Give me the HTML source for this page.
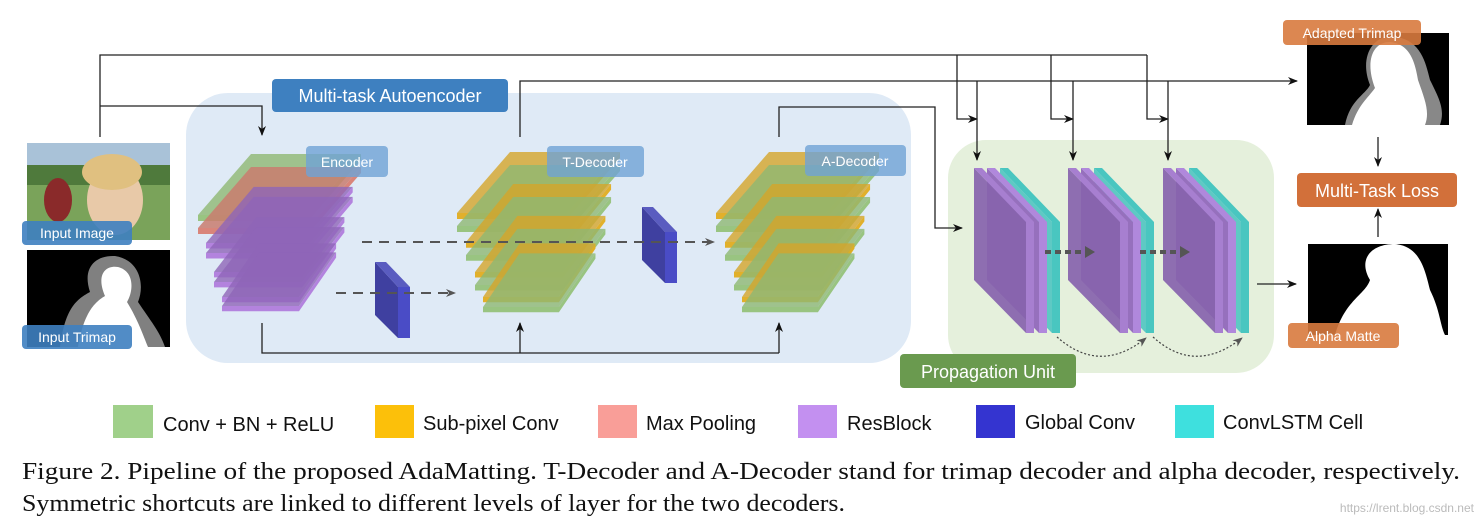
<!DOCTYPE html>
<html><head><meta charset="utf-8"><style>
body{margin:0;background:#fff;}
svg{display:block}
.lb{font-family:"Liberation Sans",sans-serif;fill:#fff}
.lg{font-family:"Liberation Sans",sans-serif;font-size:20px;fill:#111}
.cap{font-family:"Liberation Serif",serif;font-size:24px;fill:#111}
</style></head><body>
<svg width="1482" height="526" viewBox="0 0 1482 526" xmlns="http://www.w3.org/2000/svg">
<defs>
<marker id="ar" markerWidth="10" markerHeight="8" refX="9" refY="4" orient="auto" markerUnits="userSpaceOnUse"><path d="M0,0 L10,4 L0,8 L3,4 z" fill="#111"/></marker>
<marker id="ag" markerWidth="10" markerHeight="8" refX="9" refY="4" orient="auto" markerUnits="userSpaceOnUse"><path d="M0,0 L10,4 L0,8 L3,4 z" fill="#555"/></marker>
<g id="gL"><polygon points="0,0 53,-61 163,-61 110,0" fill="#8fb873" fill-opacity="0.8"/><polygon points="0,0 110,0 163,-61 163,-55 110,6 0,6" fill="#95c27a" fill-opacity="0.95"/></g>
<g id="oL"><polygon points="0,0 53,-61 163,-61 110,0" fill="#d4a52a" fill-opacity="0.8"/><polygon points="0,0 110,0 163,-61 163,-55 110,6 0,6" fill="#e0ad20" fill-opacity="0.95"/></g>
<g id="rL"><polygon points="0,0 53,-61 163,-61 110,0" fill="#c97c6e" fill-opacity="0.85"/><polygon points="0,0 110,0 163,-61 163,-55 110,6 0,6" fill="#d9857a"/></g>
<g id="pL"><polygon points="0,0 53,-61 163,-61 110,0" fill="#8f65b8" fill-opacity="0.8"/><polygon points="0,0 110,0 163,-61 163,-55 110,6 0,6" fill="#b07ddc" fill-opacity="0.95"/></g>
<g id="gc"><polygon points="0,0 23,25 23,76 0,53" fill="#3f40a0"/><polygon points="0,0 11,0 35,25 23,25" fill="#5a5cc0"/><rect x="23" y="25" width="12" height="51" fill="#4a4cc6"/></g>
<g id="plP"><polygon points="0,0 52,54 52,165 0,112" fill="#8763ad" fill-opacity="0.92"/><polygon points="0,0 8,0 60,54 60,165 52,165 52,54" fill="#a77fd0"/></g>
<g id="plP2"><polygon points="0,0 52,54 52,165 0,112" fill="#9670bd"/><polygon points="0,0 8,0 60,54 60,165 52,165 52,54" fill="#b088dc"/></g>
<g id="plT"><polygon points="0,0 52,54 52,165 0,112" fill="#5ec9c4"/><polygon points="0,0 8,0 60,54 60,165 52,165 52,54" fill="#49c6c0"/></g>
<g id="prop"><use href="#plT" x="26"/><use href="#plP2" x="13"/><use href="#plP" x="0"/></g>
</defs>

<rect x="186" y="93" width="725" height="270" rx="42" fill="#dfeaf6"/>
<rect x="948" y="140" width="326" height="233" rx="38" fill="#e5f0dc"/>

<rect x="27" y="143" width="143" height="97" fill="#7aa35a"/>
<rect x="27" y="143" width="143" height="30" fill="#a9c2d8"/>
<rect x="27" y="165" width="143" height="20" fill="#4f7a3c"/>
<ellipse cx="115" cy="200" rx="28" ry="35" fill="#e8c9a8"/>
<ellipse cx="112" cy="172" rx="30" ry="18" fill="#e0c080"/>
<ellipse cx="58" cy="200" rx="14" ry="22" fill="#8a2a2a"/>
<rect x="27" y="250" width="143" height="97" fill="#000"/>
<path d="M60,347 C65,310 75,300 90,292 C82,268 95,255 115,256 C140,260 145,285 138,302 C150,320 160,332 165,347 Z" fill="#808080"/>
<path d="M78,347 C84,312 95,302 105,296 C96,275 105,265 118,267 C134,271 134,290 127,302 C138,320 143,335 148,347 Z" fill="#fff"/>
<rect x="1307" y="33" width="142" height="92" fill="#000"/>
<path d="M1345,125 C1350,100 1365,95 1370,85 C1360,60 1370,38 1390,36 C1420,38 1425,60 1430,80 C1440,100 1445,110 1440,125 Z" fill="#888"/>
<path d="M1352,125 C1358,105 1368,98 1375,88 C1365,62 1372,42 1390,42 C1410,44 1415,62 1418,80 C1425,100 1430,112 1425,125 Z" fill="#fff"/>
<rect x="1308" y="244" width="140" height="91" fill="#000"/>
<path d="M1335,335 C1345,300 1365,295 1370,280 C1358,260 1370,244 1395,244 C1420,246 1425,270 1430,290 C1440,310 1440,325 1445,335 Z" fill="#fff"/>

<g stroke="#222" stroke-width="1.3" fill="none">
<polyline points="100,137 100,55 1147,55"/>
<polyline points="100,106 262,106 262,135" marker-end="url(#ar)"/>
<polyline points="957,55 957,119 977,119" marker-end="url(#ar)"/>
<polyline points="1051,55 1051,119 1073,119" marker-end="url(#ar)"/>
<polyline points="1147,55 1147,119 1168,119" marker-end="url(#ar)"/>
<polyline points="520,137 520,81 1297,81" marker-end="url(#ar)"/>
<line x1="977" y1="81" x2="977" y2="160" marker-end="url(#ar)"/>
<line x1="1073" y1="81" x2="1073" y2="160" marker-end="url(#ar)"/>
<line x1="1168" y1="81" x2="1168" y2="160" marker-end="url(#ar)"/>
<polyline points="779,137 779,107 935,107 935,228 962,228" marker-end="url(#ar)"/>
<polyline points="262,323 262,353 779,353"/>
<line x1="520" y1="353" x2="520" y2="323" marker-end="url(#ar)"/>
<line x1="779" y1="353" x2="779" y2="323" marker-end="url(#ar)"/>
<line x1="1257" y1="284" x2="1296" y2="284" marker-end="url(#ar)"/>
<line x1="1378" y1="137" x2="1378" y2="166" marker-end="url(#ar)"/>
<line x1="1378" y1="237" x2="1378" y2="209" marker-end="url(#ar)"/>
</g>

<!-- encoder -->
<use href="#gL" transform="translate(198,215)"/>
<use href="#rL" transform="translate(198,228)"/>
<use href="#pL" transform="translate(206,243) scale(0.9,0.92)"/>
<use href="#pL" transform="translate(206,253) scale(0.9,0.92)"/>
<use href="#pL" transform="translate(214,272) scale(0.8,0.9)"/>
<use href="#pL" transform="translate(214,282) scale(0.8,0.9)"/>
<use href="#pL" transform="translate(222,297) scale(0.7,0.88)"/>
<use href="#pL" transform="translate(222,306) scale(0.7,0.88)"/>
<!-- T-decoder -->
<use href="#oL" transform="translate(457,213)"/><use href="#gL" transform="translate(457,226)"/>
<use href="#oL" transform="translate(466,242) scale(0.89,0.95)"/><use href="#gL" transform="translate(466,255) scale(0.89,0.95)"/>
<use href="#oL" transform="translate(475,272) scale(0.8,0.92)"/><use href="#gL" transform="translate(475,285) scale(0.8,0.92)"/>
<use href="#oL" transform="translate(483,297) scale(0.69,0.88)"/><use href="#gL" transform="translate(483,307) scale(0.69,0.88)"/>
<!-- A-decoder -->
<use href="#oL" transform="translate(716,213)"/><use href="#gL" transform="translate(716,226)"/>
<use href="#oL" transform="translate(725,242) scale(0.89,0.95)"/><use href="#gL" transform="translate(725,255) scale(0.89,0.95)"/>
<use href="#oL" transform="translate(734,272) scale(0.8,0.92)"/><use href="#gL" transform="translate(734,285) scale(0.8,0.92)"/>
<use href="#oL" transform="translate(742,297) scale(0.69,0.88)"/><use href="#gL" transform="translate(742,307) scale(0.69,0.88)"/>
<use href="#gc" x="375" y="262"/>
<use href="#gc" x="642" y="207"/>
<g stroke="#555" stroke-width="2" stroke-dasharray="10,7" fill="none">
<line x1="362" y1="242" x2="714" y2="242" marker-end="url(#ag)"/>
<line x1="336" y1="293" x2="455" y2="293" marker-end="url(#ag)"/>
</g>

<use href="#prop" x="974" y="168"/>
<use href="#prop" x="1068" y="168"/>
<use href="#prop" x="1163" y="168"/>
<g stroke="#555" stroke-width="4" stroke-dasharray="6,4"><line x1="1045" y1="252" x2="1085" y2="252"/><line x1="1140" y1="252" x2="1180" y2="252"/></g>
<polygon points="1085,246 1095,252 1085,258" fill="#555"/><polygon points="1180,246 1190,252 1180,258" fill="#555"/>
<g stroke="#444" stroke-width="1.2" stroke-dasharray="2,2" fill="none">
<path d="M1057,337 Q1100,375 1146,338" marker-end="url(#ag)"/>
<path d="M1153,337 Q1195,375 1242,338" marker-end="url(#ag)"/>
</g>

<rect x="272" y="79" width="236" height="33" rx="4" fill="#3e80c0"/>
<text x="390" y="102" class="lb" font-size="18" text-anchor="middle">Multi-task Autoencoder</text>
<rect x="306" y="146" width="82" height="31" rx="4" fill="#6fa3d6" fill-opacity="0.8"/>
<text x="347" y="167" class="lb" font-size="14" text-anchor="middle">Encoder</text>
<rect x="547" y="146" width="97" height="31" rx="4" fill="#6fa3d6" fill-opacity="0.8"/>
<text x="595" y="167" class="lb" font-size="14" text-anchor="middle">T-Decoder</text>
<rect x="805" y="145" width="101" height="31" rx="4" fill="#6fa3d6" fill-opacity="0.8"/>
<text x="855" y="166" class="lb" font-size="14" text-anchor="middle">A-Decoder</text>
<rect x="900" y="354" width="176" height="34" rx="4" fill="#6a9a4f"/>
<text x="988" y="378" class="lb" font-size="18" text-anchor="middle">Propagation Unit</text>
<rect x="1283" y="20" width="138" height="25" rx="4" fill="#d87a3e" fill-opacity="0.9"/>
<text x="1352" y="38" class="lb" font-size="14" text-anchor="middle">Adapted Trimap</text>
<rect x="1297" y="173" width="160" height="34" rx="4" fill="#d2703a"/>
<text x="1377" y="197" class="lb" font-size="18" text-anchor="middle">Multi-Task Loss</text>
<rect x="1288" y="323" width="111" height="25" rx="4" fill="#d87a3e" fill-opacity="0.9"/>
<text x="1343" y="341" class="lb" font-size="14" text-anchor="middle">Alpha Matte</text>
<rect x="22" y="221" width="110" height="24" rx="4" fill="#3e80c0" fill-opacity="0.9"/>
<text x="77" y="238" class="lb" font-size="14" text-anchor="middle">Input Image</text>
<rect x="22" y="325" width="110" height="24" rx="4" fill="#3e80c0" fill-opacity="0.9"/>
<text x="77" y="342" class="lb" font-size="14" text-anchor="middle">Input Trimap</text>

<rect x="113" y="405" width="40" height="33" fill="#a0d08a"/><text x="163" y="431" class="lg">Conv + BN + ReLU</text>
<rect x="375" y="405" width="39" height="33" fill="#fcc00a"/><text x="423" y="430" class="lg">Sub-pixel Conv</text>
<rect x="598" y="405" width="39" height="33" fill="#f99e98"/><text x="646" y="430" class="lg">Max Pooling</text>
<rect x="798" y="405" width="39" height="33" fill="#c390f0"/><text x="847" y="430" class="lg">ResBlock</text>
<rect x="976" y="405" width="39" height="33" fill="#3434d0"/><text x="1025" y="429" class="lg">Global Conv</text>
<rect x="1175" y="405" width="39" height="33" fill="#3ee0de"/><text x="1223" y="429" class="lg">ConvLSTM Cell</text>

<text x="22" y="479" class="cap" textLength="1438" lengthAdjust="spacingAndGlyphs">Figure 2. Pipeline of the proposed AdaMatting.  T-Decoder and A-Decoder stand for trimap decoder and alpha decoder, respectively.</text>
<text x="22" y="511" class="cap" textLength="823" lengthAdjust="spacingAndGlyphs">Symmetric shortcuts are linked to different levels of layer for the two decoders.</text>
<text x="1474" y="512" font-family="Liberation Sans,sans-serif" font-size="12" fill="#bbb" text-anchor="end">https://lrent.blog.csdn.net</text>
</svg>
</body></html>
